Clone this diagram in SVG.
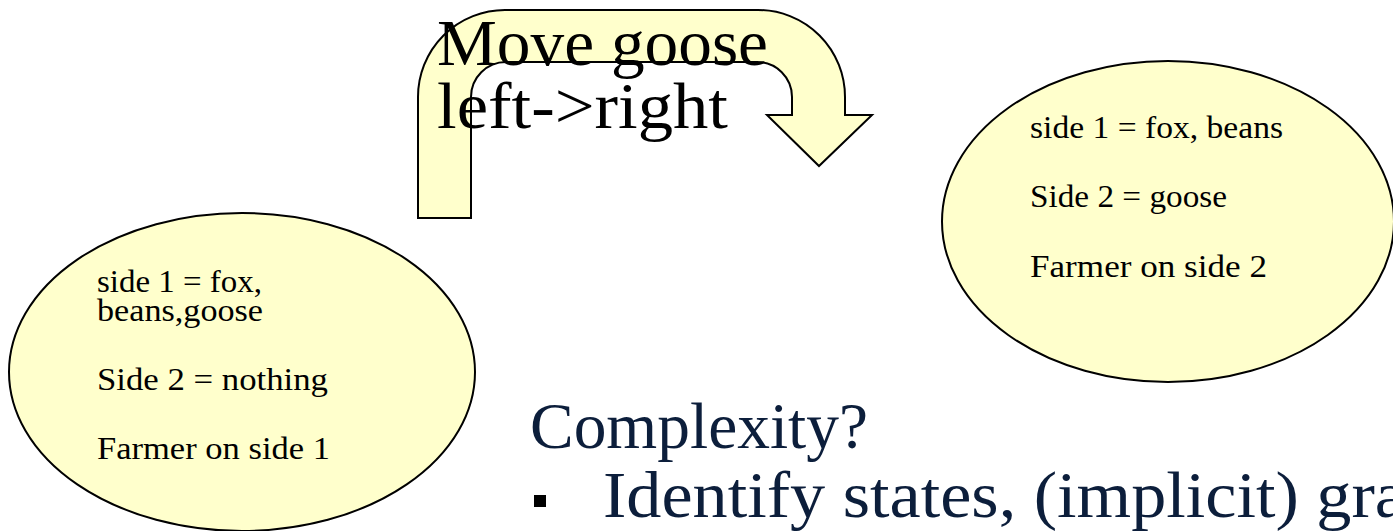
<svg xmlns="http://www.w3.org/2000/svg" width="1393" height="531" viewBox="0 0 1393 531">
<style>
.shape{fill:#FFFFCC;stroke:#000;stroke-width:2}
.t{font-family:"Liberation Serif",serif;fill:#000}
.s{font-size:31px}
.big{font-size:65px}
.navy{font-family:"Liberation Serif",serif;fill:#0C1E3B;font-size:66px}
</style>
<rect width="1393" height="531" fill="#fff"/>
<g id="uturn-arrow">
<path class="shape" d="M418,218 L418,97 A87,87 0 0 1 505,10 L758,10 A87,87 0 0 1 845,97 L845,115 L872,115 L819,166 L767,115 L792,115 L792,97 A35,35 0 0 0 757,62 L506,62 A35,35 0 0 0 471,97 L471,218 Z"/>
<text class="t big" x="437" y="65" textLength="331" lengthAdjust="spacingAndGlyphs">Move goose</text>
<text class="t big" x="437" y="128" textLength="291" lengthAdjust="spacingAndGlyphs">left-&gt;right</text>
</g>
<g id="state-left">
<ellipse class="shape" cx="242" cy="372" rx="233" ry="159"/>
<text class="t s" x="97" y="292" textLength="165" lengthAdjust="spacingAndGlyphs">side 1 = fox,</text>
<text class="t s" x="97" y="321" textLength="166" lengthAdjust="spacingAndGlyphs">beans,goose</text>
<text class="t s" x="97" y="390" textLength="231" lengthAdjust="spacingAndGlyphs">Side 2 = nothing</text>
<text class="t s" x="97" y="459" textLength="233" lengthAdjust="spacingAndGlyphs">Farmer on side 1</text>
</g>
<g id="state-right">
<ellipse class="shape" cx="1168" cy="221.5" rx="226" ry="160.5"/>
<text class="t s" x="1030" y="138" textLength="253" lengthAdjust="spacingAndGlyphs">side 1 = fox, beans</text>
<text class="t s" x="1030" y="207" textLength="197" lengthAdjust="spacingAndGlyphs">Side 2 = goose</text>
<text class="t s" x="1030" y="277" textLength="237" lengthAdjust="spacingAndGlyphs">Farmer on side 2</text>
</g>
<g id="connectors"></g>
<g id="notes">
<text class="navy" x="530" y="448" textLength="338" lengthAdjust="spacingAndGlyphs">Complexity?</text>
<rect x="534" y="495" width="12" height="12" fill="#000"/>
<text class="navy" x="603" y="517" textLength="803" lengthAdjust="spacingAndGlyphs">Identify states, (implicit) gra</text>
</g>
</svg>
